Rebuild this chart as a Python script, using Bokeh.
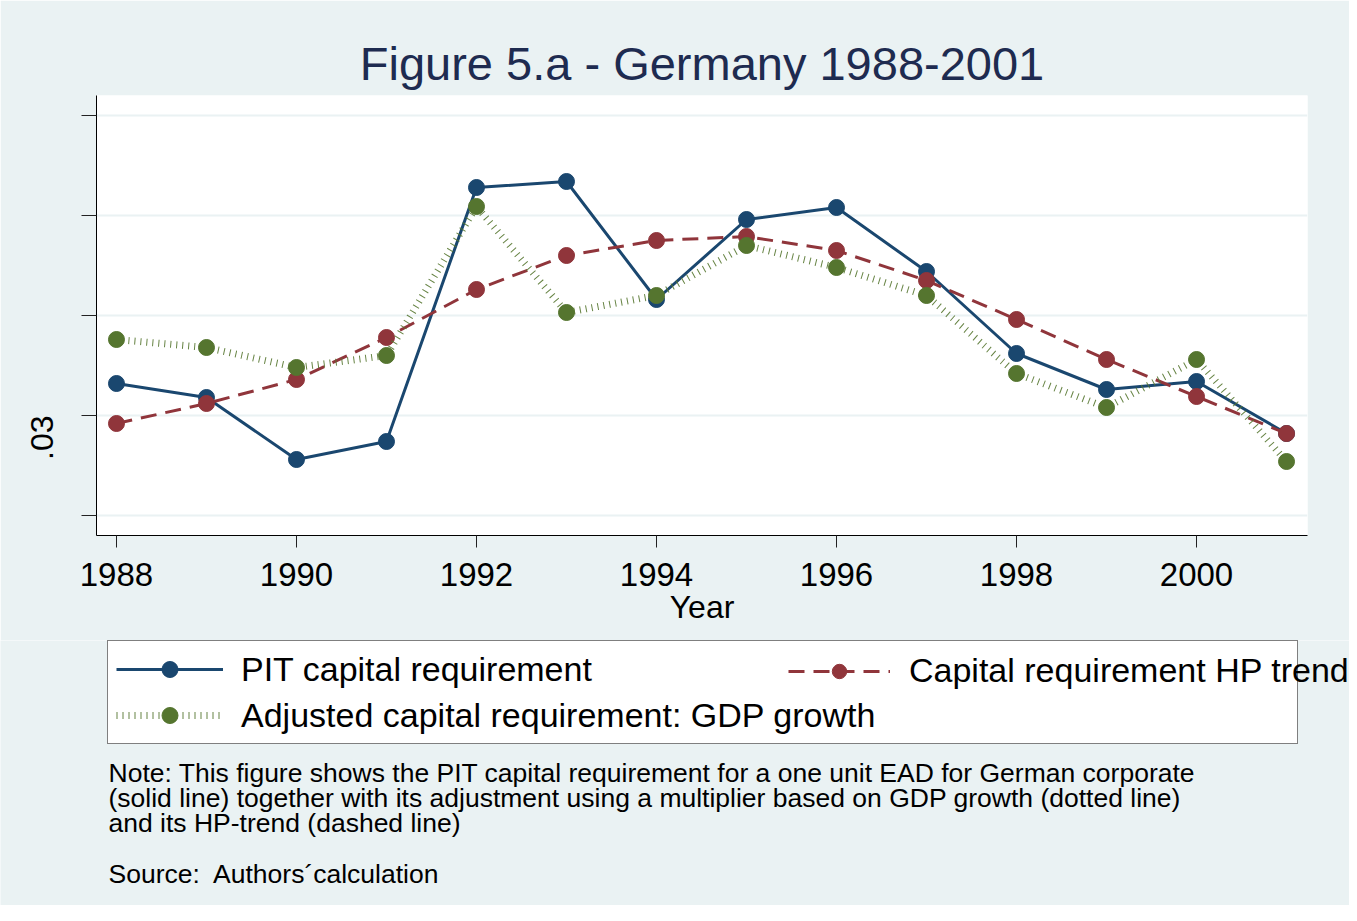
import math
from bokeh.plotting import figure
from bokeh.models import (Range1d, FixedTicker, Legend, LegendItem, Label)
from bokeh.layouts import column
from bokeh.embed import file_html
from bokeh.resources import INLINE

# ---- data ----
years = [1988, 1989, 1990, 1991, 1992, 1993, 1994, 1995, 1996, 1997, 1998, 1999, 2000, 2001]
pit_capital = [0.0316, 0.0309, 0.0278, 0.0287, 0.0414, 0.0417, 0.0358, 0.0398, 0.0404,
               0.0372, 0.0331, 0.0313, 0.0317, 0.0291]
hp_trend = [0.0296, 0.0306, 0.0318, 0.0339, 0.0363, 0.0380, 0.03875, 0.03895, 0.03825,
            0.03675, 0.0348, 0.0328, 0.03095, 0.0291]
gdp_adjusted = [0.0338, 0.0334, 0.0324, 0.0330, 0.04045, 0.03515, 0.0360, 0.0385, 0.0374,
                0.0360, 0.0321, 0.0304, 0.0328, 0.0277]
x_ticks = [1988, 1990, 1992, 1994, 1996, 1998, 2000]
y_ticks = [0.025, 0.03, 0.035, 0.04, 0.045]
y_tick_labels = {0.025: "", 0.03: ".03", 0.035: "", 0.04: "", 0.045: ""}

series_names = ["PIT capital requirement", "Capital requirement HP trend",
                "Adjusted capital requirement: GDP growth"]
note_lines = [
    "Note: This figure shows the PIT capital requirement for a one unit EAD for German corporate",
    "(solid line) together with its adjustment using a multiplier based on GDP growth (dotted line)",
    "and its HP-trend (dashed line)",
]
source_line = "Source:\u00a0 Authors\u00b4calculation"
title_text = "Figure 5.a - Germany 1988-2001"

FONT = "Liberation Sans"
BLUE = "#1A476F"
RED = "#90353B"
GREEN = "#55752F"
BG = "#EAF2F3"

W = 1349
X0, X1 = 1987.778, 2001.233
Y0, Y1 = 0.024, 0.046

# ================= main chart =================
p = figure(width=W, height=640, output_backend="svg", toolbar_location=None,
           x_range=Range1d(X0, X1), y_range=Range1d(Y0, Y1),
           min_border_left=96, min_border_right=W - 96 - 1211, min_border_top=95,
           min_border_bottom=105)
p.background_fill_color = "white"
p.border_fill_color = BG
p.outline_line_color = None

p.title.text = title_text
p.title.align = "center"
p.title.text_font = FONT
p.title.text_font_size = "47px"
p.title.text_font_style = "normal"
p.title.text_color = "#1E2B50"
p.title.standoff = 11

xa = p.xaxis[0]
xa.ticker = FixedTicker(ticks=x_ticks)
xa.minor_tick_line_color = None
xa.major_tick_out = 12
xa.major_tick_in = 0
xa.major_label_text_font = FONT
xa.major_label_text_font_size = "33px"
xa.major_label_text_color = "black"
xa.major_label_standoff = 15
xa.axis_line_color = "black"
xa.major_tick_line_color = "#222222"
xa.axis_label = "Year"
xa.axis_label_text_font = FONT
xa.axis_label_text_font_size = "32px"
xa.axis_label_text_font_style = "normal"
xa.axis_label_text_color = "black"
xa.axis_label_standoff = 0

ya = p.yaxis[0]
ya.ticker = FixedTicker(ticks=y_ticks)
ya.major_label_overrides = y_tick_labels
ya.major_label_orientation = math.pi / 2
ya.minor_tick_line_color = None
ya.major_tick_out = 15
ya.major_tick_in = 0
ya.major_label_text_font = FONT
ya.major_label_text_font_size = "32px"
ya.major_label_text_color = "black"
ya.major_label_standoff = 40
ya.axis_line_color = "black"
ya.major_tick_line_color = "#222222"

p.xgrid.grid_line_color = None
p.ygrid.ticker = FixedTicker(ticks=y_ticks)
p.ygrid.grid_line_color = BG
p.ygrid.grid_line_width = 2


def draw_series(fig, **kw):
    l1 = fig.line(years, pit_capital, line_color=BLUE, line_width=3, **kw)
    s1 = fig.scatter(years, pit_capital, size=16, fill_color=BLUE, line_color=BLUE, **kw)
    l2 = fig.line(years, hp_trend, line_color=RED, line_width=3, line_dash="16 9", **kw)
    s2 = fig.scatter(years, hp_trend, size=16, fill_color=RED, line_color=RED, **kw)
    l3 = fig.line(years, gdp_adjusted, line_color=GREEN, line_width=7, line_dash="1 5",
                  line_alpha=0.9, **kw)
    s3 = fig.scatter(years, gdp_adjusted, size=16, fill_color=GREEN, line_color=GREEN, **kw)
    return (l1, s1), (l2, s2), (l3, s3)


draw_series(p)

# ================= legend + notes panel =================
H2 = 265
TOP2 = 640  # page y where this panel starts
s = figure(width=W, height=H2, output_backend="svg", toolbar_location=None,
           x_axis_type=None, y_axis_type=None,
           min_border_left=0, min_border_right=0, min_border_top=0, min_border_bottom=0)

unaligned = True
try:
    s.frame_align = False
    p.frame_align = False
except Exception:
    unaligned = False

FL, FR = (0, W) if unaligned else (96, 96 + 1211)
s.x_range = Range1d(FL, FR)          # data x == page x
s.y_range = Range1d(TOP2 + H2, TOP2)  # data y == page y (downwards)
s.background_fill_color = BG
s.border_fill_color = BG
s.outline_line_color = None
s.xgrid.visible = False
s.ygrid.visible = False
s.extra_x_ranges = {"legend_only": Range1d(0, 1)}
s.extra_y_ranges = {"legend_only": Range1d(0, 1)}

pit_r, hp_r, gdp_r = draw_series(s, x_range_name="legend_only", y_range_name="legend_only")

# legend box: page x 107..1296, y 642..744 ; second column glyph starts at page x 800
leg_a = Legend(items=[LegendItem(label=series_names[0], renderers=list(pit_r)),
                      LegendItem(label=series_names[2], renderers=list(gdp_r))],
               location=(107 - FL, TOP2 + H2 - 744), label_width=1048,
               label_text_font=FONT, label_text_font_size="34px", label_text_color="black",
               glyph_width=107, glyph_height=40, label_height=40, label_standoff=18,
               spacing=6, padding=8, margin=0, orientation="vertical",
               border_line_color="black", border_line_width=1,
               background_fill_color="white", background_fill_alpha=1.0)
leg_b = Legend(items=[LegendItem(label=series_names[1], renderers=list(hp_r))],
               location=(788 - FL, 215),
               label_text_font=FONT, label_text_font_size="34px", label_text_color="black",
               glyph_width=102, glyph_height=36, label_height=36, label_standoff=19,
               spacing=6, padding=12, margin=0, orientation="vertical",
               border_line_color=None, background_fill_alpha=0.0)
s.add_layout(leg_a, "center")
s.add_layout(leg_b, "center")

note_y = [772, 797, 822]
for txt, yy in zip(note_lines, note_y):
    s.add_layout(Label(x=108, y=yy, text=txt, text_align="left", text_baseline="alphabetic",
                       text_font=FONT, text_font_size="26.5px", text_color="black"))
s.add_layout(Label(x=108, y=873, text=source_line, text_align="left",
                   text_baseline="alphabetic", text_font=FONT, text_font_size="26.5px",
                   text_color="black"))

layout = column(p, s, spacing=0)
html = file_html(layout, INLINE, title="Figure 5.a - Germany 1988-2001")
html = html.replace("<body>", '<body style="background-color:#F1F3EA;">', 1)
open("out.html", "w").write(html)
